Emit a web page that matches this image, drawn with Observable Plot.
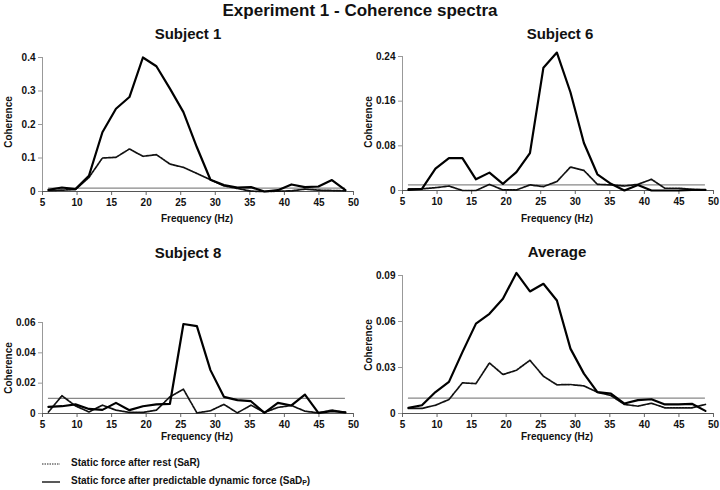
<!DOCTYPE html>
<html><head><meta charset="utf-8">
<script src="https://cdn.jsdelivr.net/npm/d3@7"></script>
<script src="https://cdn.jsdelivr.net/npm/@observablehq/plot@0.6"></script>
<style>
body{margin:0;background:#fff;font-family:"Liberation Sans",Arial,sans-serif;}
#root{position:relative;width:720px;height:490px;overflow:hidden;}
.t{position:absolute;font-weight:bold;color:#111;white-space:nowrap;transform:translate(-50%,-50%);}
.p{position:absolute;}
.lg{position:absolute;font-size:10px;font-weight:bold;color:#111;white-space:nowrap;}
sub{font-size:7px;vertical-align:-1px;}
</style></head>
<body><div id="root"></div>
<script>
const freq = [5.86, 7.81, 9.77, 11.72, 13.67, 15.63, 17.58, 19.53, 21.48, 23.44, 25.39, 27.34, 29.30, 31.25, 33.20, 35.16, 37.11, 39.06, 41.02, 42.97, 44.92, 46.88, 48.83];
const xTicks = [5, 10, 15, 20, 25, 30, 35, 40, 45, 50];
const threshold = 0.01;

const s1Rest = [0.003, 0.004, 0.006, 0.042, 0.100, 0.102, 0.127, 0.105, 0.110, 0.082, 0.072, 0.054, 0.035, 0.017, 0.009, 0.001, 0.000, 0.001, 0.002, 0.007, 0.004, 0.003, 0.002];
const s1Dyn  = [0.005, 0.012, 0.007, 0.047, 0.177, 0.247, 0.282, 0.400, 0.374, 0.307, 0.237, 0.132, 0.035, 0.019, 0.012, 0.013, 0.000, 0.004, 0.021, 0.013, 0.015, 0.034, 0.004];
const s1Ticks = [0, 0.1, 0.2, 0.3, 0.4];

const s6Rest = [0.003, 0.003, 0.005, 0.008, 0.000, 0.000, 0.011, 0.001, 0.001, 0.010, 0.007, 0.016, 0.042, 0.036, 0.011, 0.010, 0.008, 0.011, 0.020, 0.004, 0.004, 0.002, 0.001];
const s6Dyn  = [0.001, 0.003, 0.039, 0.058, 0.058, 0.020, 0.032, 0.012, 0.033, 0.067, 0.220, 0.247, 0.176, 0.085, 0.029, 0.012, 0.000, 0.010, 0.000, 0.000, 0.000, 0.001, 0.001];
const s6Ticks = [0, 0.08, 0.16, 0.24];

const s8Rest = [0.0010, 0.0117, 0.0050, 0.0010, 0.0055, 0.0022, 0.0007, 0.0007, 0.0022, 0.0110, 0.0160, 0.0004, 0.0018, 0.0060, 0.0004, 0.0055, 0.0007, 0.0040, 0.0053, 0.0015, 0.0004, 0.0022, 0.0007];
const s8Dyn  = [0.0044, 0.0048, 0.0060, 0.0030, 0.0024, 0.0070, 0.0022, 0.0048, 0.0060, 0.0064, 0.0590, 0.0576, 0.0286, 0.0110, 0.0088, 0.0081, 0.0004, 0.0070, 0.0053, 0.0125, 0.0004, 0.0015, 0.0007];
const s8Ticks = [0, 0.02, 0.04, 0.06];

const avgRest = [0.0033, 0.0033, 0.0054, 0.0091, 0.0200, 0.0195, 0.0330, 0.0254, 0.0282, 0.0347, 0.0243, 0.0187, 0.0189, 0.0180, 0.0139, 0.0117, 0.0059, 0.0048, 0.0067, 0.0037, 0.0037, 0.0037, 0.0059];
const avgDyn  = [0.0037, 0.0054, 0.0140, 0.0206, 0.0400, 0.0586, 0.0650, 0.0748, 0.0917, 0.0796, 0.0846, 0.0737, 0.0423, 0.0260, 0.0140, 0.0130, 0.0065, 0.0087, 0.0093, 0.0059, 0.0060, 0.0063, 0.0017];
const avgTicks = [0, 0.03, 0.06, 0.09];

const panels = [
  {title: "Subject 1", rest: s1Rest, dyn: s1Dyn, ticks: s1Ticks, left: 0, top: 40, height: 190, mt: 17, mb: 39, tx: 188, ty: 33, fy: 218, cy: 122},
  {title: "Subject 6", rest: s6Rest, dyn: s6Dyn, ticks: s6Ticks, left: 360, top: 40, height: 190, mt: 16, mb: 40, tx: 560, ty: 33, fy: 218, cy: 122},
  {title: "Subject 8", rest: s8Rest, dyn: s8Dyn, ticks: s8Ticks, left: 0, top: 300, height: 150, mt: 22, mb: 37, tx: 188, ty: 252, fy: 436, cy: 368},
  {title: "Average", rest: avgRest, dyn: avgDyn, ticks: avgTicks, left: 360, top: 255, height: 195, mt: 20, mb: 37, tx: 557, ty: 251, fy: 436, cy: 345}
];

const root = document.getElementById("root");
function addText(txt, x, y, size, rot) {
  const d = document.createElement("div");
  d.className = "t";
  d.style.left = x + "px"; d.style.top = y + "px"; d.style.fontSize = size + "px";
  if (rot) d.style.transform = "translate(-50%,-50%) rotate(-90deg)";
  d.innerHTML = txt;
  root.appendChild(d);
}
addText("Experiment 1 - Coherence spectra", 360, 11, 17);

for (const p of panels) {
  const rest = freq.map((f, i) => ({f, v: p.rest[i]}));
  const dyn = freq.map((f, i) => ({f, v: p.dyn[i]}));
  const ymax = p.ticks[p.ticks.length - 1];
  const chart = Plot.plot({
    width: 360, height: p.height,
    marginLeft: 42, marginRight: 7, marginTop: p.mt, marginBottom: p.mb,
    x: {domain: [5, 50]},
    y: {domain: [0, ymax]},
    style: {fontFamily: "'Liberation Sans', Arial, sans-serif", fontSize: "10px", fontWeight: "bold", color: "#111", background: "transparent"},
    marks: [
      Plot.ruleY([threshold], {x1: freq[0], x2: freq[freq.length - 1], stroke: "#888", strokeWidth: 1.3}),
      Plot.ruleX([5], {y1: 0, y2: ymax, stroke: "#999", strokeWidth: 1}),
      Plot.axisX({ticks: xTicks, tickSize: 4, tickPadding: 3, label: null, stroke: "#666", fill: "#111", tickFormat: d => String(d)}),
      Plot.axisY({ticks: p.ticks, tickSize: 4, tickPadding: 3, label: null, stroke: "#999", fill: "#111", tickFormat: d => String(d)}),
      Plot.ruleY([0], {stroke: "#555", strokeWidth: 1}),
      Plot.line(rest, {x: "f", y: "v", stroke: "#111", strokeWidth: 1.7, strokeDasharray: "2,1"}),
      Plot.line(dyn, {x: "f", y: "v", stroke: "#000", strokeWidth: 2.2})
    ]
  });
  chart.classList.add("p");
  chart.style.left = p.left + "px";
  chart.style.top = p.top + "px";
  root.appendChild(chart);
  addText(p.title, p.tx, p.ty, 15);
  addText("Frequency (Hz)", p.left + 197, p.fy, 10);
  addText("Coherence", p.left + 8, p.cy, 10, true);
}

// legend
function legendItem(y, dash, width, label) {
  const s = d3.create("svg").attr("width", 20).attr("height", 6)
    .style("position", "absolute").style("left", "42px").style("top", (y - 3) + "px");
  s.append("line").attr("x1", 0).attr("x2", 18).attr("y1", 3).attr("y2", 3)
    .attr("stroke", "#222").attr("stroke-width", width).attr("stroke-dasharray", dash);
  root.appendChild(s.node());
  const d = document.createElement("div");
  d.className = "lg";
  d.style.left = "71px"; d.style.top = (y - 7) + "px";
  d.innerHTML = label;
  root.appendChild(d);
}
legendItem(464, "1.5,1", 1, "Static force after rest (SaR)");
legendItem(482, null, 1.5, "Static force after predictable dynamic force (SaD<sub>P</sub>)");
</script>
</body></html>
